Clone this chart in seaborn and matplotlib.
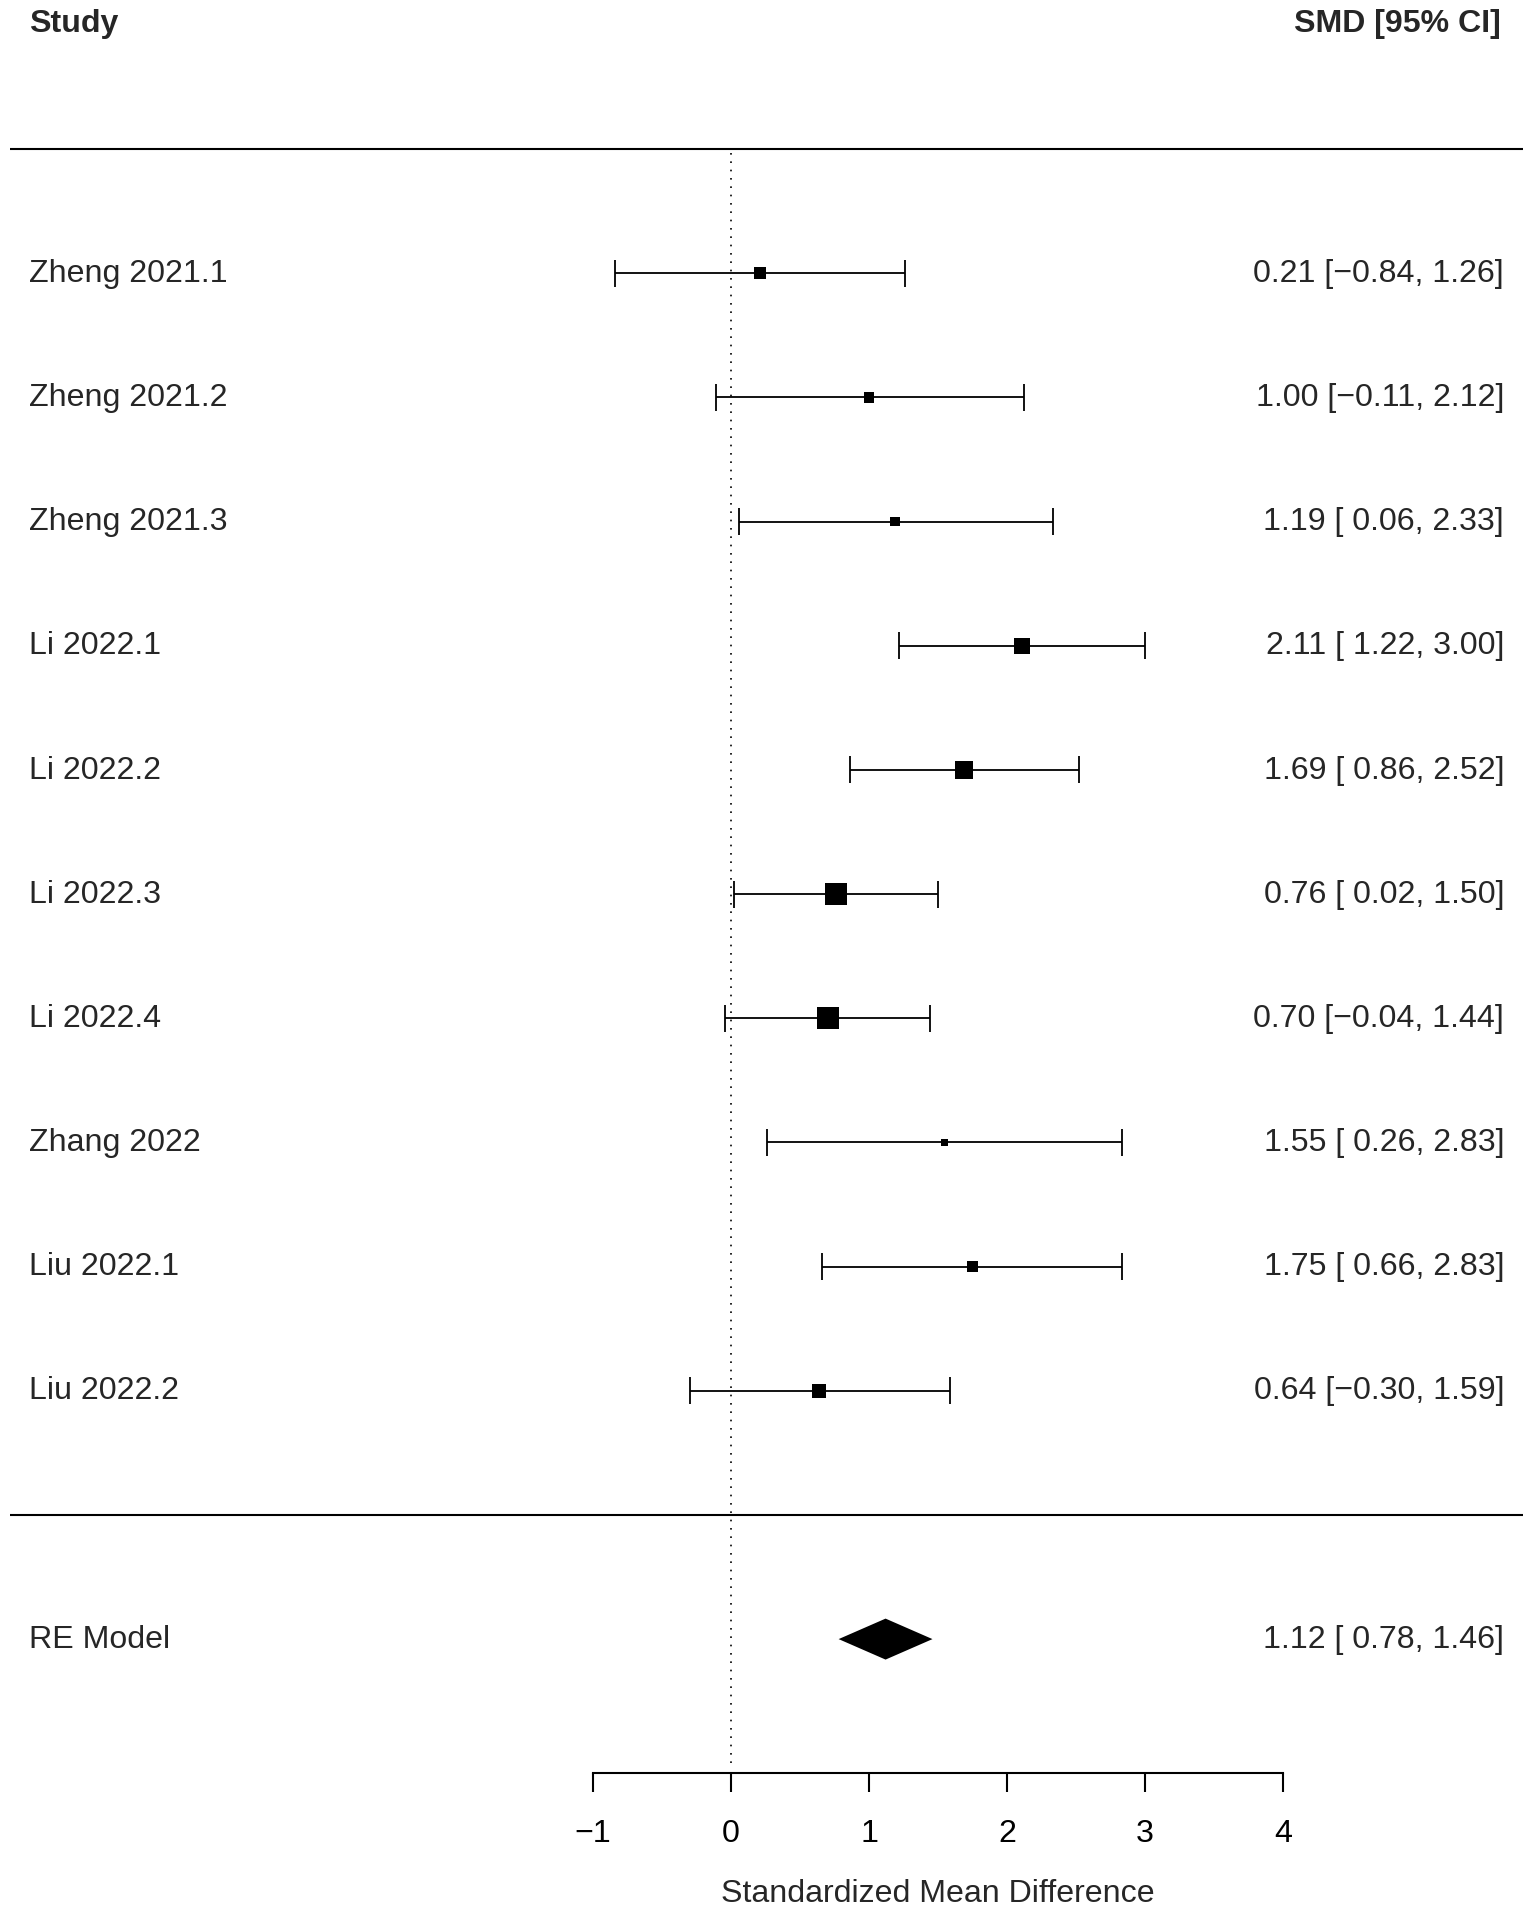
import numpy as np
import pandas as pd
import matplotlib
matplotlib.use('Agg')
import matplotlib.pyplot as plt
import seaborn as sns

# data
studies = ['Zheng 2021.1', 'Zheng 2021.2', 'Zheng 2021.3', 'Li 2022.1', 'Li 2022.2',
           'Li 2022.3', 'Li 2022.4', 'Zhang 2022', 'Liu 2022.1', 'Liu 2022.2']
smd = [0.21, 1.00, 1.19, 2.11, 1.69, 0.76, 0.70, 1.55, 1.75, 0.64]
ci_low = [-0.84, -0.11, 0.06, 1.22, 0.86, 0.02, -0.04, 0.26, 0.66, -0.30]
ci_high = [1.26, 2.12, 2.33, 3.00, 2.52, 1.50, 1.44, 2.83, 2.83, 1.59]
weights = [8.96, 8.32, 8.04, 10.80, 11.85, 13.40, 13.60, 6.80, 8.50, 10.00]  # % (approx)

re_label = 'RE Model'
re_est, re_low, re_high = 1.12, 0.78, 1.46

xticks = [-1, 0, 1, 2, 3, 4]
xlabel = 'Standardized Mean Difference'

k = len(studies)
df = pd.DataFrame({'study': studies, 'smd': smd, 'lo': ci_low, 'hi': ci_high,
                   'w': weights, 'row': np.arange(k, 0, -1)})


def fmt(v, pad=False):
    s = f'{v:5.2f}' if pad else f'{v:.2f}'
    return s.replace('-', '\u2212')


def ci_text(e, l, h):
    return f'{fmt(e)} [{fmt(l, True)}, {fmt(h)}]'


sns.set_theme(style='white')
plt.rcParams['font.family'] = ['Liberation Sans', 'DejaVu Sans']
plt.rcParams['axes.unicode_minus'] = True

fig = plt.figure(figsize=(15.35, 19.15), dpi=100)
ax = fig.add_axes([0, 0, 1, 1])
ax.set_xlim(-5.297, 5.826)
ax.set_ylim(-3.214, 12.209)

FS = 23.1
txt_off = -0.062  # baseline sits a bit under the row line
cap = 0.109

# reference line at 0
ax.plot([0, 0], [-2, 11], color='black', lw=1.2, ls=(0, (1, 4)))

# CI lines with end caps
ax.hlines(df['row'], df['lo'], df['hi'], color='black', lw=1.3)
ax.vlines(df['lo'], df['row'] - cap, df['row'] + cap, color='black', lw=1.3)
ax.vlines(df['hi'], df['row'] - cap, df['row'] + cap, color='black', lw=1.3)

# squares sized by weight (side grows linearly with weight)
wmin, wmax = df['w'].min(), df['w'].max()
sizes = {w: ((7 + 14.8 * (w - wmin) / (wmax - wmin)) * 0.72) ** 2 for w in df['w']}
sns.scatterplot(data=df, x='smd', y='row', size='w', sizes=sizes, marker='s',
                color='black', linewidth=0, legend=False, ax=ax, zorder=3)

# summary diamond
dh = 0.165
ax.fill([re_low, re_est, re_high, re_est], [-1, -1 + dh, -1, -1 - dh],
        color='black', lw=0)

# separators
tr = ax.get_yaxis_transform()
for yy in (11, 0):
    ax.plot([0.0065, 0.992], [yy, yy], transform=tr, color='black', lw=1.5,
            solid_capstyle='butt')

# text columns
left_x, right_x = 29 / 1535, 1504 / 1535
for _, r in df.iterrows():
    ax.text(left_x, r['row'] + txt_off, r['study'], transform=tr, fontsize=FS,
            ha='left', va='baseline')
    ax.text(right_x, r['row'] + txt_off, ci_text(r['smd'], r['lo'], r['hi']),
            transform=tr, fontsize=FS, ha='right', va='baseline')
ax.text(left_x, -1 + txt_off, re_label, transform=tr, fontsize=FS,
        ha='left', va='baseline')
ax.text(right_x, -1 + txt_off, ci_text(re_est, re_low, re_high), transform=tr,
        fontsize=FS, ha='right', va='baseline')
ax.text(left_x, 12 + txt_off + 0.01, 'Study', transform=tr, fontsize=FS,
        fontweight='bold', ha='left', va='baseline')
ax.text(1501 / 1535, 12 + txt_off + 0.01, 'SMD [95% CI]', transform=tr, fontsize=FS,
        fontweight='bold', ha='right', va='baseline')

# x axis
for s in ('top', 'right', 'left'):
    ax.spines[s].set_visible(False)
ax.spines['bottom'].set_position(('data', -2.08))
ax.spines['bottom'].set_bounds(xticks[0], xticks[-1])
ax.spines['bottom'].set_linewidth(1.5)
ax.spines['bottom'].set_color('black')
ax.set_xticks(xticks)
ax.set_xticklabels([str(t).replace('-', '\u2212') for t in xticks])
ax.tick_params(axis='x', direction='out', length=13.7, width=1.5, color='black',
               labelsize=FS, pad=18.5, bottom=True, labelcolor='black')
ax.set_yticks([])
ax.set_xlabel('')
ax.set_ylabel('')
ax.text((xticks[0] + xticks[-1]) / 2, -3.11, xlabel, fontsize=FS,
        ha='center', va='baseline')

fig.savefig('out.png', dpi=100, facecolor='white')
plt.close(fig)
